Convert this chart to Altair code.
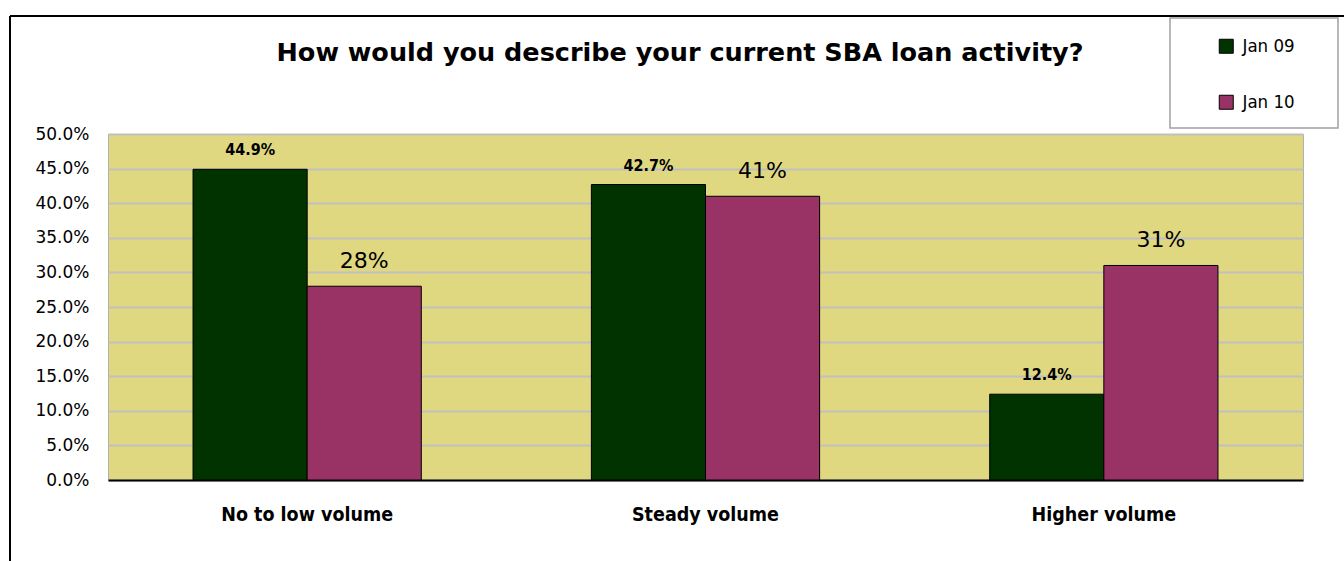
import altair as alt
import pandas as pd

categories = ["No to low volume", "Steady volume", "Higher volume"]
series_names = ["Jan 09", "Jan 10"]
jan09 = [0.449, 0.427, 0.124]
jan10 = [0.28, 0.41, 0.31]
labels09 = ["44.9%", "42.7%", "12.4%"]
labels10 = ["28%", "41%", "31%"]
y_ticks = [0, 0.05, 0.10, 0.15, 0.20, 0.25, 0.30, 0.35, 0.40, 0.45, 0.50]
title_text = "How would you describe your current SBA loan activity?"

rows = []
for c, v, l in zip(categories, jan09, labels09):
    rows.append({"category": c, "series": "Jan 09", "value": v, "label": l})
for c, v, l in zip(categories, jan10, labels10):
    rows.append({"category": c, "series": "Jan 10", "value": v, "label": l})
df = pd.DataFrame(rows)

# plot area placement in the 1344x561 page
L, T, W, H = 108, 134, 1195, 346

x_enc = alt.X(
    "category:N", sort=categories, title=None,
    scale=alt.Scale(paddingInner=0.427, paddingOuter=0.2135),
    axis=alt.Axis(labelAngle=0, labelFont="DejaVu Sans Condensed", labelFontWeight="bold",
                  labelFontSize=19.5, labelColor="black", labelPadding=25,
                  ticks=False, domainColor="black", domainWidth=2, grid=False),
)
xo_enc = alt.XOffset("series:N", sort=series_names,
                     scale=alt.Scale(paddingInner=0, paddingOuter=0))
y_enc = alt.Y(
    "value:Q", title=None,
    scale=alt.Scale(domain=[0, 0.5], nice=False, zero=True),
    axis=alt.Axis(format=".1%", values=y_ticks, labelOverlap=False, labelFont="DejaVu Sans",
                  labelFontSize=17, labelColor="black", labelPadding=19, ticks=False,
                  domain=False, grid=True, gridColor="#c0c0c0", gridWidth=2),
)
color_enc = alt.Color(
    "series:N", sort=series_names, title=None,
    scale=alt.Scale(domain=series_names, range=["#003300", "#993366"]),
    legend=alt.Legend(orient="none", legendX=1217 - L, legendY=37 - T,
                      symbolType="square", symbolSize=196, symbolStrokeColor="black",
                      symbolStrokeWidth=1, symbolOpacity=1,
                      labelFont="DejaVu Sans Condensed", labelFontSize=18.5, labelColor="black",
                      labelOffset=7, rowPadding=37, padding=0),
)

base = alt.Chart(df).encode(x=x_enc, xOffset=xo_enc, y=y_enc)

bars = base.mark_bar(stroke="black", strokeWidth=1, opacity=1).encode(color=color_enc)

text09 = base.transform_filter(alt.datum.series == "Jan 09").mark_text(
    font="DejaVu Sans Condensed", fontWeight="bold", fontSize=16, color="black",
    baseline="alphabetic", dy=-14,
).encode(text="label:N")

text10 = base.transform_filter(alt.datum.series == "Jan 10").mark_text(
    font="DejaVu Sans", fontSize=22, color="black", baseline="alphabetic", dy=-18,
).encode(text="label:N")

one = pd.DataFrame({"t": [title_text]})

title = alt.Chart(one).mark_text(
    font="DejaVu Sans", fontWeight="bold", fontSize=25.5, color="black", baseline="alphabetic",
    align="center",
).encode(x=alt.value(680 - L), y=alt.value(61 - T), text="t:N")

legend_box = alt.Chart(one).mark_rect(fill="white", stroke="#a0a0a0", strokeWidth=1.5).encode(
    x=alt.value(1170 - L), x2=alt.value(1338 - L), y=alt.value(18 - T), y2=alt.value(128 - T)
)

frame_left = alt.Chart(one).mark_rule(color="black", strokeWidth=2).encode(
    x=alt.value(10 - L), y=alt.value(16 - T), y2=alt.value(561 - T)
)
frame_top = alt.Chart(one).mark_rule(color="black", strokeWidth=2).encode(
    x=alt.value(10 - L), x2=alt.value(1344 - L), y=alt.value(16 - T)
)

chart = alt.layer(frame_left, frame_top, legend_box, title, bars, text09, text10).properties(
    width=W, height=H,
    padding={"left": L, "top": T, "right": 1344 - L - W, "bottom": 561 - T - H},
    autosize=alt.AutoSizeParams(type="none"),
    background="white",
).configure_view(fill="#e0d880", stroke="#b0b0b0", strokeWidth=1)

chart.save("out.html", embed_options={"renderer": "svg", "actions": False})
